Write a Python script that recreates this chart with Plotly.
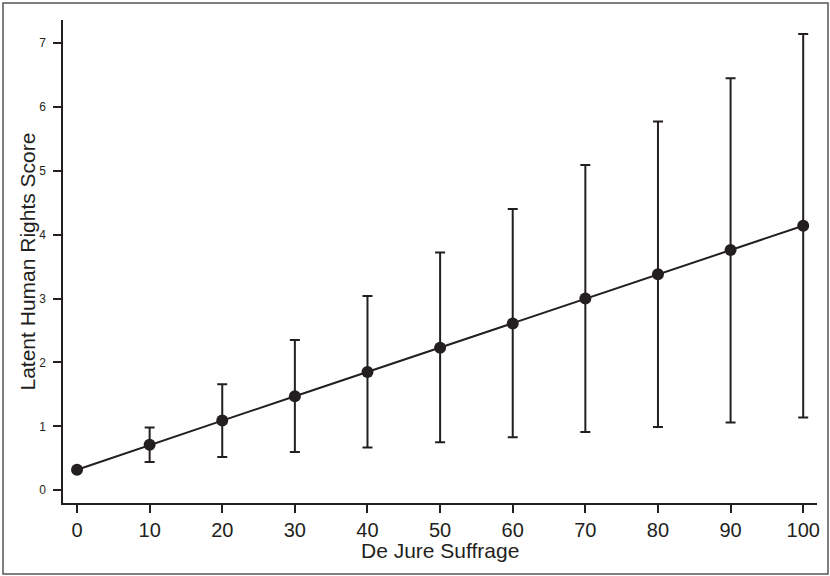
import plotly.graph_objects as go

suffrage = [0, 10, 20, 30, 40, 50, 60, 70, 80, 90, 100]
score = [0.32, 0.71, 1.09, 1.47, 1.85, 2.23, 2.61, 3.00, 3.38, 3.76, 4.14]
upper = [0.32, 0.98, 1.66, 2.35, 3.04, 3.72, 4.40, 5.09, 5.77, 6.45, 7.14]
lower = [0.32, 0.44, 0.52, 0.60, 0.67, 0.75, 0.83, 0.91, 0.99, 1.06, 1.14]
x_ticks = [0, 10, 20, 30, 40, 50, 60, 70, 80, 90, 100]
y_ticks = [0, 1, 2, 3, 4, 5, 6, 7]

INK = "#231f20"
FONT = "Liberation Sans, Arial, sans-serif"

err_plus = [u - s for u, s in zip(upper, score)]
err_minus = [s - l for s, l in zip(score, lower)]

fig = go.Figure()
fig.add_trace(go.Scatter(
    x=suffrage, y=score, mode="lines+markers",
    line=dict(color=INK, width=2),
    marker=dict(color=INK, size=12),
    error_y=dict(type="data", symmetric=False, array=err_plus, arrayminus=err_minus,
                 color=INK, thickness=2, width=5),
    showlegend=False,
))

W, H = 830, 576
L, R, T, B = 63, 13, 20, 73
pw, ph = W - L - R, H - T - B

fig.update_layout(
    width=W, height=H,
    margin=dict(l=L, r=R, t=T, b=B, autoexpand=False),
    paper_bgcolor="white", plot_bgcolor="white",
    font=dict(family=FONT, color=INK),
    xaxis=dict(range=[-1.93, 101.9], tickvals=x_ticks, ticktext=[str(v) for v in x_ticks],
               showgrid=False, zeroline=False, showline=True, linecolor=INK, linewidth=1.5,
               ticks="outside", ticklen=8, tickwidth=1.5, tickcolor=INK,
               tickfont=dict(size=20, family=FONT, color=INK), ticklabelstandoff=0),
    yaxis=dict(range=[-0.2, 7.36], tickvals=y_ticks, ticktext=[str(v) for v in y_ticks],
               showgrid=False, zeroline=False, showline=True, linecolor=INK, linewidth=1.5,
               ticks="outside", ticklen=8, tickwidth=1.5, tickcolor=INK,
               tickfont=dict(size=12, family=FONT, color=INK), ticklabelstandoff=5),
    annotations=[
        dict(text="De Jure Suffrage", xref="paper", yref="paper",
             x=0.5, y=(H - B - 550) / ph, xanchor="center", yanchor="middle",
             showarrow=False, font=dict(size=21, family=FONT, color=INK)),
        dict(text="Latent Human Rights Score", xref="paper", yref="paper",
             x=(27 - L) / pw, y=0.5, xanchor="center", yanchor="middle", textangle=-90,
             showarrow=False, font=dict(size=21, family=FONT, color=INK)),
    ],
    shapes=[dict(type="rect", xref="paper", yref="paper",
                 x0=(3 - L) / pw, x1=(828 - L) / pw,
                 y0=(H - B - 574) / ph, y1=(H - B - 3) / ph,
                 line=dict(color="#555555", width=1.5))],
)

fig.write_html("out.html", config={"displayModeBar": False},
               post_script="document.body.style.margin='0';document.body.style.overflow='hidden';")
